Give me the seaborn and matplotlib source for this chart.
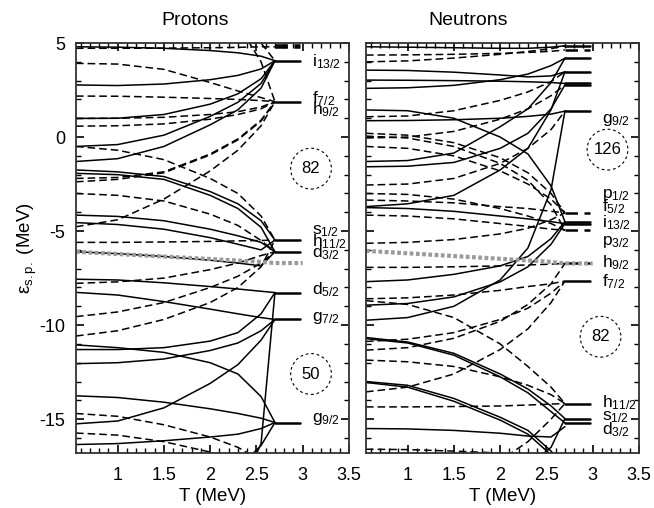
import pandas as pd
import seaborn as sns
import matplotlib.pyplot as plt
import matplotlib.transforms as mtrans
from matplotlib.patches import Ellipse
from matplotlib.ticker import MultipleLocator, FixedLocator, FuncFormatter

sns.set_style("ticks")
plt.rcParams['font.family'] = ['Liberation Sans', 'DejaVu Sans']
plt.rcParams['mathtext.fontset'] = 'custom'
plt.rcParams['mathtext.rm'] = 'Liberation Sans'
plt.rcParams['mathtext.it'] = 'Liberation Sans'
plt.rcParams['font.size'] = 13
plt.rcParams['text.color'] = 'black'
plt.rcParams['axes.labelcolor'] = 'black'
plt.rcParams['xtick.color'] = 'black'
plt.rcParams['ytick.color'] = 'black'

# temperature grid on which each branch was read (MeV)
T_GRID = [0.55, 1.0, 1.5, 2.0, 2.3, 2.55, 2.7]
T_STUB = [2.7, 2.97]

# ---- protons: single-particle energies (MeV) on T_GRID ----
proton_solid = [
    [4.80, 4.78, 4.72, 4.60, 4.48, 4.30, 4.06],
    [2.77, 2.74, 2.82, 3.05, 3.28, 3.62, 4.06],
    [0.99, 1.00, 1.20, 1.75, 2.30, 3.10, 4.06],
    [-0.50, -0.40, 0.10, 1.10, 1.85, 2.85, 4.06],
    [-1.30, -1.15, -0.50, 0.65, 1.45, 2.60, 4.06],
    [-1.75, -1.85, -2.10, -2.90, -3.55, -4.45, -5.48],
    [-1.93, -2.00, -2.25, -3.10, -3.80, -4.80, -6.10],
    [-4.15, -4.22, -4.45, -4.90, -5.25, -5.60, -6.10],
    [-4.55, -4.65, -4.90, -5.35, -5.70, -6.00, -5.48],
    [-6.10, -6.20, -6.35, -6.55, -6.70, -6.85, -6.10],
    [-7.56, -7.60, -7.75, -7.95, -8.08, -8.20, -8.27],
    [-8.26, -8.40, -8.75, -9.15, -9.40, -9.60, -9.70],
    [-11.05, -11.20, -11.45, -12.00, -12.60, -13.80, -15.18],
    [-11.30, -11.30, -11.20, -10.85, -10.40, -9.40, -8.27],
    [-12.05, -12.00, -11.80, -11.35, -10.95, -10.30, -9.70],
    [-13.76, -13.85, -14.10, -14.45, -14.70, -14.95, -15.18],
    [-15.25, -15.10, -14.40, -13.10, -12.10, -10.80, -9.70],
    [-16.35, -16.30, -16.15, -15.95, -15.80, -15.50, -15.18],
    [-20.0, -20.0, -19.5, -18.5, -17.6, -16.40, -15.18],
    [-25.0, -24.0, -23.0, -21.0, -19.0, -16.30, -8.27],
]
proton_dashed = [
    [3.92, 3.88, 3.60, 2.90, 2.45, 2.10, 1.88],
    [2.18, 2.17, 2.12, 2.05, 2.00, 1.94, 1.88],
    [0.99, 1.00, 1.05, 1.20, 1.35, 1.60, 1.88],
    [0.58, 0.60, 0.70, 0.95, 1.20, 1.50, 1.88],
    [-0.50, -0.70, -1.20, -2.20, -3.00, -4.20, -5.48],
    [-2.20, -2.15, -1.85, -0.90, -0.10, 0.90, 1.88],
    [-2.38, -2.25, -1.90, -0.95, -0.15, 0.85, 1.88],
    [-3.00, -3.10, -3.40, -4.10, -4.70, -5.50, -6.10],
    [-4.77, -4.40, -3.30, -1.80, -0.70, 0.60, 1.88],
    [-5.60, -5.60, -5.58, -5.55, -5.52, -5.50, -5.48],
    [-7.78, -7.70, -7.50, -7.05, -6.70, -6.30, -6.10],
    [-9.55, -9.30, -8.80, -8.00, -7.40, -6.70, -6.10],
    [-10.58, -10.30, -9.70, -8.80, -8.00, -6.90, -5.48],
    [-14.70, -14.85, -15.30, -15.95, -16.50, -17.20, -17.60],
    [-15.74, -15.85, -16.20, -16.75, -17.20, -17.80, -18.00],
    [9.0, 8.5, 8.0, 7.0, 6.0, 4.00, 1.88],
    [9.0, 8.5, 8.0, 7.0, 6.2, 5.00, 4.06],
    [4.72, 4.72, 4.73, 4.75, 4.77, 4.80, 4.80],
]
proton_levels_solid = [4.06, 1.88, -5.48, -6.10, -8.27, -9.70, -15.18]
proton_levels_dashed = [4.80, 4.90]
proton_mu_T = [0.55, 2.5, 2.7, 3.0]
proton_mu_E = [-6.10, -6.62, -6.70, -6.70]
proton_labels = ["i$_{13/2}$", "f$_{7/2}$", "h$_{9/2}$", "s$_{1/2}$",
                 "h$_{11/2}$", "d$_{3/2}$", "d$_{5/2}$", "g$_{7/2}$", "g$_{9/2}$"]
proton_label_E = [4.0, 2.06, 1.44, -4.98, -5.57, -6.15, -8.14, -9.6, -15.0]
proton_magic = ["82", "50"]
proton_magic_T = [3.09, 3.09]
proton_magic_E = [-1.68, -12.6]

# ---- neutrons ----
neutron_solid = [
    [4.80, 4.78, 4.75, 4.72, 4.72, 4.78, 4.85],
    [3.56, 3.54, 3.45, 3.30, 3.20, 3.25, 3.47],
    [3.03, 3.02, 3.00, 2.97, 2.94, 2.90, 2.85],
    [2.59, 2.62, 2.75, 3.05, 3.35, 3.80, 4.19],
    [1.44, 1.40, 1.00, 0.00, -0.90, -2.60, -4.50],
    [0.87, 0.88, 0.92, 1.00, 1.10, 1.22, 1.38],
    [-1.30, -1.25, -0.85, 0.55, 1.50, 2.90, 4.19],
    [-1.58, -1.55, -1.35, -0.60, 0.20, 1.50, 2.77],
    [-3.70, -3.55, -3.10, -1.75, -0.60, 1.45, 3.47],
    [-3.75, -3.80, -3.95, -4.20, -4.35, -4.50, -4.60],
    [-7.69, -7.60, -7.30, -6.85, -6.35, -5.40, -4.50],
    [-8.94, -8.85, -8.50, -7.70, -6.90, -5.70, -4.60],
    [-9.74, -9.60, -9.00, -7.60, -5.90, -2.80, 1.38],
    [-10.66, -10.90, -11.50, -12.60, -13.40, -14.30, -14.97],
    [-10.72, -10.95, -11.60, -12.75, -13.60, -14.60, -15.20],
    [-13.00, -13.20, -13.90, -14.90, -15.60, -16.70, -17.50],
    [-13.05, -13.30, -14.05, -15.05, -15.80, -16.90, -17.80],
    [-15.50, -15.52, -15.60, -15.75, -15.90, -15.95, -15.40],
    [-20.0, -20.0, -19.5, -18.5, -17.5, -16.50, -14.97],
]
neutron_dashed = [
    [4.36, 4.37, 4.40, 4.45, 4.50, 4.56, 4.63],
    [4.00, 4.05, 4.20, 4.40, 4.55, 4.70, 4.85],
    [1.08, 1.12, 1.40, 1.95, 2.40, 2.95, 3.47],
    [0.20, 0.10, -0.30, -1.10, -1.90, -3.00, -4.03],
    [0.05, -0.05, -0.50, -1.40, -2.30, -3.60, -4.95],
    [-0.05, 0.00, 0.30, 0.95, 1.50, 2.20, 2.77],
    [-0.50, -0.60, -1.00, -1.80, -2.50, -3.30, -4.03],
    [-2.55, -2.50, -2.20, -1.40, -0.60, 0.40, 1.38],
    [-3.00, -3.05, -3.30, -3.80, -4.20, -4.60, -4.95],
    [-3.35, -3.40, -3.50, -3.70, -3.80, -3.95, -4.03],
    [-4.15, -4.20, -4.35, -4.60, -4.75, -4.90, -4.95],
    [-5.65, -5.60, -5.45, -5.15, -4.85, -4.40, -4.03],
    [-6.93, -6.93, -6.90, -6.85, -6.80, -6.76, -6.72],
    [-8.60, -8.55, -8.40, -8.15, -7.95, -7.80, -7.66],
    [-8.70, -8.90, -9.60, -11.00, -12.20, -13.30, -14.17],
    [-10.87, -10.75, -10.40, -9.70, -9.10, -8.30, -7.66],
    [-11.33, -11.20, -10.70, -9.80, -8.90, -7.80, -6.72],
    [-11.86, -11.95, -12.20, -12.75, -13.20, -13.70, -14.17],
    [-13.55, -13.30, -12.60, -11.30, -10.20, -8.80, -7.66],
    [-14.35, -14.35, -14.33, -14.30, -14.25, -14.20, -14.17],
    [-16.60, -16.62, -16.70, -16.80, -17.00, -17.00, -17.00],
    [-22.0, -21.0, -19.5, -17.2, -16.20, -15.00, -14.17],
]
neutron_levels_solid = [4.85, 4.19, 3.47, 2.85, 2.77, 1.38, -4.50, -4.60,
                        -7.66, -14.17, -14.97, -15.20]
neutron_levels_dashed = [4.63, -4.03, -4.95, -6.72]
neutron_mu_T = [0.55, 2.5, 2.7, 3.0]
neutron_mu_E = [-6.05, -6.62, -6.72, -6.72]
neutron_labels = ["g$_{9/2}$", "p$_{1/2}$", "f$_{5/2}$", "i$_{13/2}$", "p$_{3/2}$",
                  "h$_{9/2}$", "f$_{7/2}$", "h$_{11/2}$", "s$_{1/2}$", "d$_{3/2}$"]
neutron_label_E = [0.9, -3.09, -3.7, -4.56, -5.57, -6.67, -7.7, -14.13, -14.9, -15.58]
neutron_magic = ["126", "82"]
neutron_magic_T = [3.16, 3.085]
neutron_magic_E = [-0.67, -10.62]


def branches(solid, dashed):
    rows = []
    for kind, curves in (("solid", solid), ("dashed", dashed)):
        for i, e in enumerate(curves):
            for t, v in zip(T_GRID, e):
                rows.append((f"{kind}{i}", kind, t, v))
    return pd.DataFrame(rows, columns=["curve", "kind", "T", "E"])


def stubs(solid, dashed):
    rows = []
    for kind, lev in (("solid", solid), ("dashed", dashed)):
        for i, e in enumerate(lev):
            for t in T_STUB:
                rows.append((f"{kind}{i}", kind, t, e))
    return pd.DataFrame(rows, columns=["curve", "kind", "T", "E"])


DASHES = {"solid": "", "dashed": (5, 2.6)}

fig = plt.figure(figsize=(6.54, 5.08), dpi=100)
ax1 = fig.add_axes([0.1162, 0.1083, 0.4174, 0.807])
ax2 = fig.add_axes([0.5596, 0.1083, 0.4174, 0.807])

panels = [
    (ax1, "Protons", 1.84, proton_solid, proton_dashed, proton_levels_solid,
     proton_levels_dashed, proton_mu_T, proton_mu_E, proton_labels, proton_label_E,
     proton_magic, proton_magic_T, proton_magic_E),
    (ax2, "Neutrons", 1.65, neutron_solid, neutron_dashed, neutron_levels_solid,
     neutron_levels_dashed, neutron_mu_T, neutron_mu_E, neutron_labels, neutron_label_E,
     neutron_magic, neutron_magic_T, neutron_magic_E),
]

for (ax, title, title_T, solid, dashed, lev_s, lev_d, mu_T, mu_E,
     labels, label_E, magic, magic_T, magic_E) in panels:
    df = branches(solid, dashed)
    sns.lineplot(data=df, x="T", y="E", units="curve", estimator=None, style="kind",
                 dashes=DASHES, color="black", lw=1.1, legend=False, sort=False, ax=ax)
    st = stubs(lev_s, lev_d)
    sns.lineplot(data=st, x="T", y="E", units="curve", estimator=None, style="kind",
                 dashes=DASHES, color="black", lw=1.8, legend=False, sort=False, ax=ax)
    mu = pd.DataFrame({"T": mu_T, "E": mu_E})
    sns.lineplot(data=mu, x="T", y="E", color="#9a9a9a", lw=3,
                 linestyle=(0, (0.9, 0.6)), ax=ax)

    for lab, e in zip(labels, label_E):
        ax.text(3.1, e, lab, fontsize=12.5, va="center", ha="left")
    for m, t, e in zip(magic, magic_T, magic_E):
        ax.add_patch(Ellipse((t, e), 0.44, 2.17, fill=False, ls=(0, (2.5, 2.5)),
                             lw=0.8, color="black"))
        ax.text(t, e, m, fontsize=12, ha="center", va="center")

    trans = mtrans.blended_transform_factory(ax.transData, ax.transAxes)
    ax.text(title_T, 1.055, title, transform=trans, ha="center", va="center", fontsize=14)

    ax.set_xlim(0.55, 3.5)
    ax.set_ylim(-16.8, 5)
    ax.xaxis.set_major_locator(FixedLocator([1, 1.5, 2, 2.5, 3, 3.5]))
    ax.xaxis.set_minor_locator(MultipleLocator(0.1))
    ax.yaxis.set_major_locator(MultipleLocator(5))
    ax.yaxis.set_minor_locator(MultipleLocator(1))
    ax.xaxis.set_major_formatter(FuncFormatter(lambda v, p: f"{v:g}"))
    ax.yaxis.set_major_formatter(FuncFormatter(lambda v, p: f"{v:g}"))
    ax.tick_params(which="both", direction="in", top=True, right=True,
                   bottom=True, left=True, color="black", labelcolor="black",
                   labelsize=13)
    ax.tick_params(axis="x", which="major", pad=10)
    ax.tick_params(axis="y", which="major", pad=8)
    ax.tick_params(which="major", length=6, width=1.2)
    ax.tick_params(which="minor", length=3.5, width=1.0)
    for sp in ax.spines.values():
        sp.set_color("#333333")
        sp.set_linewidth(1.3)
    ax.set_xlabel("T (MeV)", fontsize=13.5, labelpad=3)
    ax.set_ylabel("")

ax1.set_ylabel("ε$_{s.p.}$ (MeV)", fontsize=13.5, labelpad=0)
ax2.tick_params(labelleft=False)

fig.savefig("out.png", dpi=100)
